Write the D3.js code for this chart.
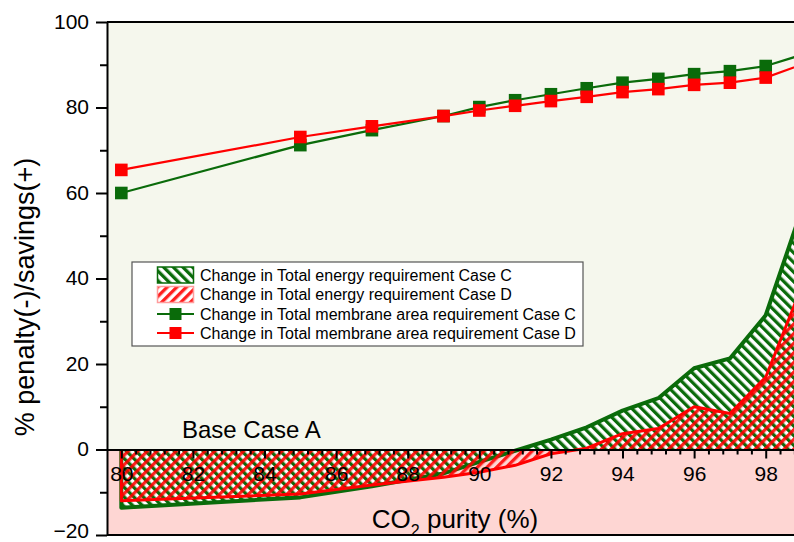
<!DOCTYPE html>
<html>
<head>
<meta charset="utf-8">
<script src="https://cdn.jsdelivr.net/npm/d3@7/dist/d3.min.js"></script>
<style>
  html, body { margin: 0; padding: 0; background: #ffffff; overflow: hidden; }
  svg { display: block; font-family: "Liberation Sans", Arial, sans-serif; }
</style>
</head>
<body>
<svg id="chart" width="794" height="542"></svg>
<script>
// CO2 purity (%) at which each case was evaluated
const purity = [80, 85, 87, 89, 90, 91, 92, 93, 94, 95, 96, 97, 98, 99];

// Change in total energy requirement (%), cases C and D
const energyC = [-13.6, -11.2, -8.6, -5.6, -2.9, -0.3, 2.3, 5.2, 9.1, 12.0, 19.0, 21.3, 31.4, 56.0];
const energyD = [-12.0, -10.4, -8.3, -6.5, -5.3, -3.7, -1.0, 0.3, 3.7, 4.9, 10.0, 8.4, 16.9, 38.0];

// Change in total membrane area requirement (%), cases C and D
const membraneC = [60.0, 71.2, 74.7, 78.0, 80.1, 81.7, 83.1, 84.5, 85.8, 86.7, 87.8, 88.5, 89.7, 92.3];
const membraneD = [65.4, 73.1, 75.6, 78.0, 79.3, 80.4, 81.5, 82.5, 83.6, 84.3, 85.3, 85.8, 87.0, 90.0];

// Axis ticks
const xMajorTicks = [80, 82, 84, 86, 88, 90, 92, 94, 96, 98];
const xMinorStep = 0.4;
const yMajorTicks = [-20, 0, 20, 40, 60, 80, 100];
const yMinorTicks = [-10, 10, 30, 50, 70, 90];

const legendLabels = [
  "Change in Total energy requirement Case C",
  "Change in Total energy requirement Case D",
  "Change in Total membrane area requirement Case C",
  "Change in Total membrane area requirement Case D"
];

const GREEN = "#0a6b0a";
const RED = "#ff0000";

const svg = d3.select("#chart");
const plot = { left: 107, top: 22, bottom: 535 };

const x = d3.scaleLinear().domain([79.6, 99.6]).range([plot.left, plot.left + 20 * 35.8]);
const y = d3.scaleLinear().domain([-20, 100]).range([plot.bottom, plot.top]);
const right = x.range()[1];

const defs = svg.append("defs");
defs.append("clipPath").attr("id", "plotClip")
  .append("rect").attr("x", plot.left).attr("y", plot.top)
  .attr("width", right - plot.left).attr("height", plot.bottom - plot.top);

// Hatch patterns: green "\" on white, red "/" semi-transparent on top
const pg = defs.append("pattern").attr("id", "hatchC")
  .attr("patternUnits", "userSpaceOnUse").attr("width", 6.8).attr("height", 6.8)
  .attr("patternTransform", "rotate(-45)");
pg.append("rect").attr("width", 6.8).attr("height", 6.8).attr("fill", "#ffffff");
pg.append("rect").attr("width", 3.3).attr("height", 6.8).attr("fill", GREEN);

const pr = defs.append("pattern").attr("id", "hatchD")
  .attr("patternUnits", "userSpaceOnUse").attr("width", 6.8).attr("height", 6.8)
  .attr("patternTransform", "rotate(45)");
pr.append("rect").attr("width", 3.3).attr("height", 6.8).attr("fill", RED).attr("fill-opacity", 0.88);

// Background bands: above and below zero
svg.append("rect").attr("x", plot.left).attr("y", y(100))
  .attr("width", right - plot.left).attr("height", y(0) - y(100)).attr("fill", "#f5f7ed");
svg.append("rect").attr("x", plot.left).attr("y", y(0))
  .attr("width", right - plot.left).attr("height", y(-20) - y(0)).attr("fill", "#fed6d3");

const g = svg.append("g").attr("clip-path", "url(#plotClip)");

const area = vals => d3.area()
  .x((d, i) => x(purity[i])).y0(y(0)).y1(d => y(d))(vals);
const line = d3.line().x((d, i) => x(purity[i])).y(d => y(d));
// Outline: left edge up from the zero line, then along the curve
const outline = vals => d3.line()([[x(purity[0]), y(0)]].concat(vals.map((d, i) => [x(purity[i]), y(d)])));

// Energy areas
g.append("path").attr("d", area(energyC)).attr("fill", "url(#hatchC)");
g.append("path").attr("d", outline(energyC)).attr("fill", "none")
  .attr("stroke", GREEN).attr("stroke-width", 4).attr("stroke-linejoin", "round");
g.append("path").attr("d", area(energyD)).attr("fill", "url(#hatchD)");
g.append("path").attr("d", outline(energyD)).attr("fill", "none")
  .attr("stroke", RED).attr("stroke-width", 3).attr("stroke-linejoin", "round");

// Membrane area lines with square markers
function series(vals, color) {
  g.append("path").attr("d", line(vals)).attr("fill", "none")
    .attr("stroke", color).attr("stroke-width", 2.2);
  g.selectAll(null).data(vals).enter().append("rect")
    .attr("x", (d, i) => x(purity[i]) - 6.3).attr("y", d => y(d) - 6.3)
    .attr("width", 12.6).attr("height", 12.6).attr("fill", color);
}
series(membraneC, GREEN);
series(membraneD, RED);

// Frame
svg.append("line").attr("x1", plot.left).attr("x2", right).attr("y1", plot.top).attr("y2", plot.top)
  .attr("stroke", "#000").attr("stroke-width", 2);
svg.append("line").attr("x1", plot.left).attr("x2", right).attr("y1", plot.bottom).attr("y2", plot.bottom)
  .attr("stroke", "#000").attr("stroke-width", 2);

// Y axis
const yAxis = svg.append("g").attr("transform", `translate(${plot.left},0)`)
  .call(d3.axisLeft(y).tickValues(yMajorTicks).tickSize(11).tickPadding(7).tickSizeOuter(0));
yAxis.select(".domain").attr("stroke-width", 2);
yAxis.selectAll(".tick line").attr("stroke-width", 2);
yAxis.selectAll(".tick text").attr("font-size", 21).attr("font-family", "Liberation Sans, Arial, sans-serif")
  .attr("fill", "#000").attr("dy", d => d === -20 ? "0.12em" : "0.3em");
svg.append("g").attr("transform", `translate(${plot.left},0)`)
  .call(d3.axisLeft(y).tickValues(yMinorTicks).tickSize(7).tickFormat("").tickSizeOuter(0))
  .call(s => s.select(".domain").remove())
  .selectAll(".tick line").attr("stroke-width", 2);

// X axis along the zero line
const minorX = d3.range(80, 99.7, xMinorStep).filter(v => Math.abs((v - 80) / 2 - Math.round((v - 80) / 2)) > 1e-6);
svg.append("g").attr("transform", `translate(0,${y(0)})`)
  .call(d3.axisBottom(x).tickValues(minorX).tickSize(5).tickFormat("").tickSizeOuter(0))
  .call(s => s.select(".domain").remove())
  .selectAll(".tick line").attr("stroke-width", 2);
const xAxis = svg.append("g").attr("transform", `translate(0,${y(0)})`)
  .call(d3.axisBottom(x).tickValues(xMajorTicks).tickSize(9).tickSizeOuter(0));
xAxis.select(".domain").attr("stroke-width", 2.2);
xAxis.selectAll(".tick line").attr("stroke-width", 2);
xAxis.selectAll(".tick text").attr("font-size", 21).attr("font-family", "Liberation Sans, Arial, sans-serif")
  .attr("fill", "#000").attr("y", 31).attr("dy", 0);

// Axis titles and annotation
svg.append("text").attr("transform", "translate(34,297) rotate(-90)")
  .attr("text-anchor", "middle").attr("font-size", 27).text("% penalty(-)/savings(+)");
const xt = svg.append("text").attr("x", 455).attr("y", 528).attr("text-anchor", "middle").attr("font-size", 26);
xt.append("tspan").text("CO");
xt.append("tspan").attr("font-size", 16).attr("dy", 8).text("2");
xt.append("tspan").attr("dy", -8).text(" purity (%)");
svg.append("text").attr("x", 182).attr("y", 438).attr("font-size", 24).text("Base Case A");

// Legend
const lg = svg.append("g");
lg.append("rect").attr("x", 132).attr("y", 262).attr("width", 451).attr("height", 84)
  .attr("fill", "#ffffff").attr("stroke", "#555").attr("stroke-width", 1.2);
const rowY = [275, 294.5, 314, 333];
lg.append("rect").attr("x", 157.5).attr("y", rowY[0] - 8).attr("width", 36).attr("height", 16)
  .attr("fill", "url(#hatchC)").attr("stroke", GREEN).attr("stroke-width", 1.5);
lg.append("rect").attr("x", 157.5).attr("y", rowY[1] - 8).attr("width", 36).attr("height", 16)
  .attr("fill", "url(#hatchD)").attr("stroke", "#ff9c9c").attr("stroke-width", 1.5);
[[GREEN, rowY[2]], [RED, rowY[3]]].forEach(([c, yy]) => {
  lg.append("line").attr("x1", 157).attr("x2", 194).attr("y1", yy).attr("y2", yy)
    .attr("stroke", c).attr("stroke-width", 2.2);
  lg.append("rect").attr("x", 175.5 - 6).attr("y", yy - 6).attr("width", 12).attr("height", 12).attr("fill", c);
});
lg.selectAll(null).data(legendLabels).enter().append("text")
  .attr("x", 200).attr("y", (d, i) => rowY[i] + 5.8).attr("font-size", 16).attr("fill", "#000").text(d => d);
</script>
</body>
</html>
